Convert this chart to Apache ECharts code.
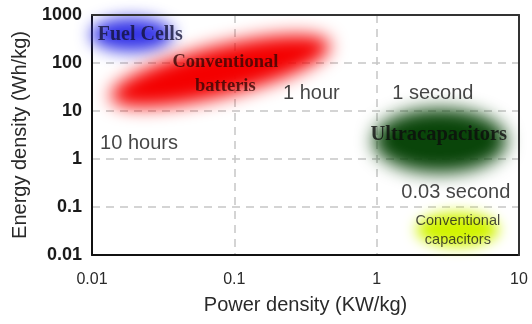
<!DOCTYPE html>
<html><head><meta charset="utf-8">
<script src="https://cdn.jsdelivr.net/npm/echarts@6/dist/echarts.min.js"></script>
<style>html,body{margin:0;padding:0;background:#fff}#c{width:532px;height:324px}</style>
</head><body><div id="c"></div>
<script>
// ---- data ----
const xTickLabels = ['0.01', '0.1', '1', '10'];
const yTickLabels = ['0.01', '0.1', '1', '10', '100', '1000'];
const techNames = ['Fuel Cells', 'Conventional batteris', 'Ultracapacitors', 'Conventional capacitors'];
// major-axis end points of each technology region: [power (KW/kg), energy (Wh/kg)]
const techStart = [[0.0098, 390], [0.0135, 19], [0.95, 2.4], [1.9, 0.034]];
const techEnd   = [[0.037, 390], [0.47, 245], [8.2, 2.4], [7.2, 0.034]];
const bigLabelNames = ['Fuel Cells', 'Conventional\nbatteris', 'Ultracapacitors'];
const bigLabelPos = [[0.0218, 383], [0.0865, 59], [2.73, 3.16]];
const timeLabelNames = ['1 hour', '1 second', '10 hours', '0.03 second'];
const timeLabelPos = [[0.348, 23.7], [2.48, 23.7], [0.0214, 2.15], [3.6, 0.196]];
const capLabelNames = ['Conventional\ncapacitors'];
const capLabelPos = [[3.72, 0.033]];

// ---- styles ----
const blobStyles = [
  { color: '#3636e8', thick: 34, blur: 16 },
  { color: '#f40000', thick: 50, blur: 18 },
  { color: '#0a450a', thick: 64, blur: 18 },
  { color: '#d2f400', thick: 34, blur: 14 }
];
const bigLabelColors = ['#13133a', '#360604', '#0c0c0c'];
const bigLabelSizes = [20, 18.5, 20.5];
const OFF = 3000;

function pickLabel(v, labels) {
  let best = labels[0], bd = Infinity;
  labels.forEach(l => { const d = Math.abs(Math.log10(+l) - Math.log10(v)); if (d < bd) { bd = d; best = l; } });
  return bd < 0.01 ? best : '';
}

function renderBlob(params, api) {
  const p1 = api.coord([api.value(0), api.value(1)]);
  const p2 = api.coord([api.value(2), api.value(3)]);
  const st = blobStyles[params.dataIndex];
  const cx = (p1[0] + p2[0]) / 2, cy = (p1[1] + p2[1]) / 2;
  const a = Math.hypot(p2[0] - p1[0], p2[1] - p1[1]) / 2;
  const b = st.thick / 2;
  const ang = Math.atan2(p2[1] - p1[1], p2[0] - p1[0]);
  const pts = [];
  for (let i = 0; i < 90; i++) {
    const t = i / 90 * 2 * Math.PI;
    const ex = a * Math.cos(t), ey = b * Math.sin(t);
    pts.push([cx + ex * Math.cos(ang) - ey * Math.sin(ang) - OFF, cy + ex * Math.sin(ang) + ey * Math.cos(ang)]);
  }
  return {
    type: 'polygon', shape: { points: pts },
    style: { fill: st.color, shadowBlur: st.blur, shadowColor: st.color, shadowOffsetX: OFF }
  };
}

const chart = echarts.init(document.getElementById('c'), null, { renderer: 'canvas' });
const sans = '"Liberation Sans", Arial, sans-serif';
const serif = '"Liberation Serif", "Times New Roman", serif';
const grid = { lineStyle: { color: '#c6c6c6', width: 1.5, type: [8, 6] } };

chart.setOption({
  animation: false,
  backgroundColor: '#fff',
  grid: { left: 92, right: 13, top: 15, bottom: 69 },
  xAxis: [{
    type: 'log', logBase: 10, min: 0.01, max: 10,
    name: 'Power density (KW/kg)', nameLocation: 'middle', nameGap: 40,
    nameTextStyle: { fontFamily: sans, fontSize: 20, color: '#2a2a2a' },
    axisLine: { lineStyle: { color: '#111', width: 2 } },
    axisTick: { show: false },
    axisLabel: { fontFamily: sans, fontSize: 16, color: '#2a2a2a', margin: 17, formatter: v => pickLabel(v, xTickLabels) },
    splitLine: Object.assign({ show: true }, grid),
    z: 0
  }, {
    type: 'log', logBase: 10, min: 0.01, max: 10, position: 'top',
    axisLine: { show: true, lineStyle: { color: '#333', width: 2 } },
    axisTick: { show: false }, axisLabel: { show: false }, splitLine: { show: false }, z: 10
  }],
  yAxis: [{
    type: 'log', logBase: 10, min: 0.01, max: 1000,
    name: 'Energy density (Wh/kg)', nameLocation: 'middle', nameGap: 62,
    nameTextStyle: { fontFamily: sans, fontSize: 20, color: '#2a2a2a' },
    axisLine: { lineStyle: { color: '#111', width: 2 } },
    axisTick: { show: false },
    axisLabel: { fontFamily: sans, fontSize: 18, fontWeight: 'bold', color: '#1a1a1a', margin: 10, formatter: v => pickLabel(v, yTickLabels) },
    splitLine: Object.assign({ show: true }, grid),
    z: 0
  }, {
    type: 'log', logBase: 10, min: 0.01, max: 1000, position: 'right',
    axisLine: { show: true, lineStyle: { color: '#333', width: 2 } },
    axisTick: { show: false }, axisLabel: { show: false }, splitLine: { show: false }, z: 10
  }],
  series: [
    {
      type: 'custom', renderItem: renderBlob, clip: false,
      encode: { x: [0, 2], y: [1, 3] },
      data: techNames.map((n, i) => ({ name: n, value: [techStart[i][0], techStart[i][1], techEnd[i][0], techEnd[i][1]] })),
      z: 1
    },
    {
      type: 'scatter', symbolSize: 1, itemStyle: { color: 'rgba(0,0,0,0)' }, z: 5,
      label: { show: true, position: 'inside', formatter: '{b}', fontFamily: serif, fontWeight: 'bold', fontSize: 18, lineHeight: 24 },
      data: bigLabelNames.map((n, i) => ({ name: n, value: bigLabelPos[i], label: { color: bigLabelColors[i], fontSize: bigLabelSizes[i] } }))
    },
    {
      type: 'scatter', symbolSize: 1, itemStyle: { color: 'rgba(0,0,0,0)' }, z: 5,
      label: { show: true, position: 'inside', formatter: '{b}', fontFamily: sans, fontSize: 20, color: '#151515' },
      data: timeLabelNames.map((n, i) => ({ name: n, value: timeLabelPos[i] }))
    },
    {
      type: 'scatter', symbolSize: 1, itemStyle: { color: 'rgba(0,0,0,0)' }, z: 5,
      label: { show: true, position: 'inside', formatter: '{b}', fontFamily: sans, fontSize: 14.5, lineHeight: 19, color: '#1c1c1c' },
      data: capLabelNames.map((n, i) => ({ name: n, value: capLabelPos[i] }))
    }
  ]
});
</script></body></html>
